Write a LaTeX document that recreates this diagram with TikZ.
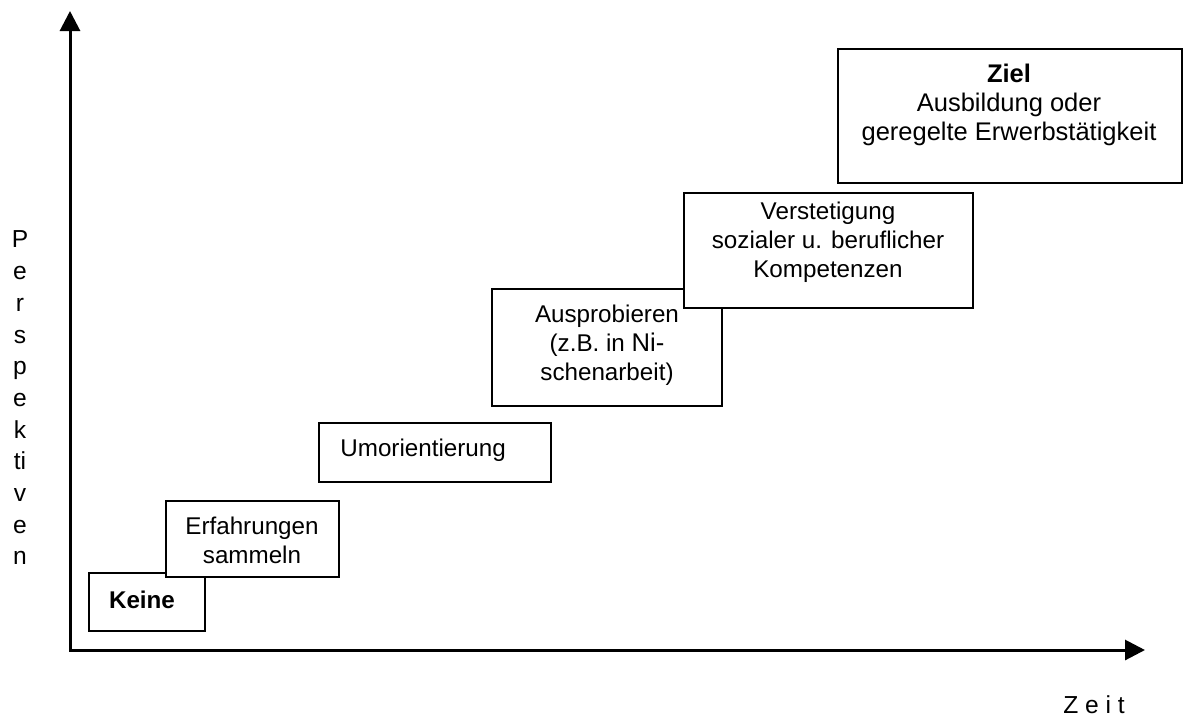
\documentclass[tikz,border=0pt]{standalone}
\usepackage{fontspec}
\setmainfont{Liberation Sans}
\usetikzlibrary{arrows.meta,fit}
\tikzset{
  box/.style={draw=black, line width=1pt, fill=white, inner sep=0pt},
  boxtext/.style={align=center, inner sep=0pt, font=\fontsize{12.1}{14.5}\selectfont},
  axis/.style={line width=1.5pt, line join=miter},
  axislabel/.style={align=center, inner sep=0pt, font=\fontsize{12.3}{15.85}\selectfont}
}
\begin{document}
\begin{tikzpicture}[x=0.5pt,y=-0.5pt]
\useasboundingbox (0,0) rectangle (1184,720);
% axes
\coordinate (ytop) at (70,11);
\coordinate (O) at (70,650);
\coordinate (xend) at (1145,650);
\draw[axis, {Triangle[length=10pt,width=10pt]}-{Triangle[length=10pt,width=10pt]}] (ytop) -- (O) -- (xend);
\node[axislabel] (ylab) at (20,398) {P\\e\\r\\s\\p\\e\\k\\ti\\v\\e\\n};
\node[axislabel] (xlab) at (1094,705) {Z e i t};
% boxes
\node[box, fit={(89,573)(205,631)}] (keine) {};
\node[boxtext, font=\fontsize{12.1}{14.5}\selectfont\bfseries] (keinet) at (142,600) {Keine};
\node[box, fit={(166,501)(339,577)}] (erf) {};
\node[boxtext] (erft) at (252,540) {Erfahrungen\\sammeln};
\node[box, fit={(319,423)(551,482)}] (umo) {};
\node[boxtext, anchor=west] (umot) at (340,450) {Umorientierung};
\node[box, fit={(492,289)(722,406)}] (aus) {};
\node[boxtext] (aust) at (607,345) {Ausprobieren\\(z.B. in {\fontsize{12.8}{14.5}\selectfont Ni-}\\schenarbeit)};
\node[box, fit={(684,193)(973,308)}] (vers) {};
\node[boxtext] (verst) at (828,242) {Verstetigung\\sozialer u. beruflicher\\Kompetenzen};
\node[box, fit={(838,49)(1182,183)}] (ziel) {};
\node[boxtext, font=\fontsize{12.75}{14.5}\selectfont] (zielt) at (1009,105) {\textbf{Ziel}\\Ausbildung oder\\geregelte Erwerbstätigkeit};
\end{tikzpicture}
\end{document}
